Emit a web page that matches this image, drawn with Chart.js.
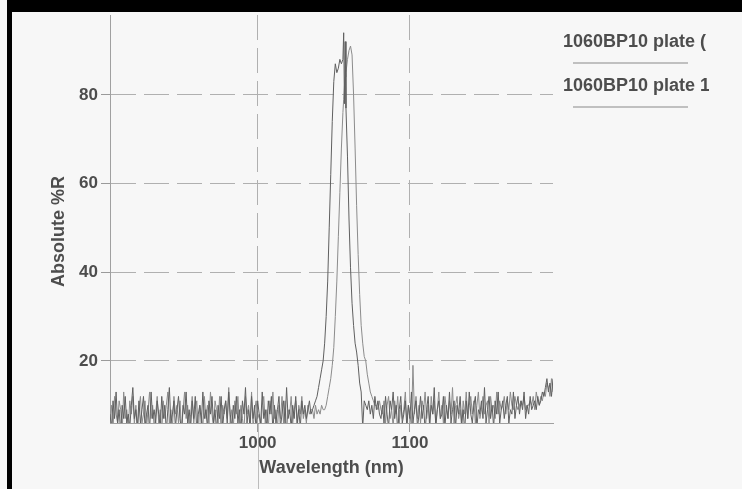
<!DOCTYPE html>
<html>
<head>
<meta charset="utf-8">
<script src="https://cdn.jsdelivr.net/npm/chart.js@4/dist/chart.umd.min.js"></script>
<style>
  html, body { margin: 0; padding: 0; background: #f7f7f7; }
  #wrap { width: 742px; height: 489px; position: relative; }
</style>
</head>
<body>
<div id="wrap"><canvas id="c" width="742" height="489"></canvas></div>
<script>
// ---- data ----
// sample wavelengths (nm): 1 nm sampling on the flat parts, finer around the peak
function seq(a, b) { const o = []; for (let v = a; v <= b; v++) o.push(v); return o; }
const wavelengthsLeft = seq(903, 1035);
const wavelengthsPeak = [
  1036,1037,1038,1039,1040,1041,1042,1043,1044,1045,1046,1047,1048,1049,1050,1051,1052,1053,1054,1055,1056,
  1056.5,1057,1057.5,
  1058,1059,1060,1061,1062,1063,1064,1065,1066,1067,1068,1069,1070,1071,1072,1073,1074,1075,1076,1077,1078,1079,1080
];
const wavelengthsRight = seq(1081, 1194);
const wavelengths = [...wavelengthsLeft, ...wavelengthsPeak, ...wavelengthsRight];

const plateALeft = [
  8,5,11,7,13,6,9,4,10,7, 12,6,8,5,10,14,7,9,5,11, 6,9,12,5,8,10,4,13,7,9,
  6,11,8,5,12,7,10,4,9,14, 6,8,11,5,9,12,7,4,10,8, 13,6,9,5,11,7,12,4,8,10,
  6,13,7,9,5,11,8,12,6,9, 4,10,7,12,5,9,11,6,13,8, 5,10,7,12,6,9,4,11,8,14,
  6,9,5,12,7,10,4,11,8,6, 13,7,9,5,11,8,12,4,10,6, 9,12,5,8,11,6,14,7,9,5,
  10,7,12,6,9,5,11,8,10,7, 9,11,8
];
const plateAPeak = [
  9,10,11,12,14,16,18,20,24,30,38,50,62,74,83,87,85,86,88,87,88,
  94,78,92,
  77,66,52,41,33,28,24,22,19,15,13,5,11,10,9,11,8,10,7,12,9,11,8
];
const plateARight = [
  7,10,6,12,8,5,11,9,13,7, 10,4,9,12,6,8,11,5,10,7, 13,6,9,11,5,8,12,7,10,4,
  9,12,6,10,8,14,5,9,11,7, 8,12,5,10,7,13,6,9,11,5, 10,8,12,6,9,4,11,7,13,8,
  6,10,12,5,9,8,11,7,14,6, 9,12,7,10,5,11,8,13,6,9, 11,7,10,12,6,9,8,13,7,10,
  12,8,11,9,13,7,10,8,12,9, 10,11,9,12,10,11,13,12,14,16, 13,15,12,16
];
const plateBLeft = [
  7,10,5,12,8,6,11,9,4,13, 7,9,5,11,8,12,6,10,4,9, 12,6,8,11,5,9,13,7,10,5,
  8,12,6,9,4,11,7,10,13,6, 9,5,12,8,10,6,11,4,9,13, 7,10,5,8,12,6,9,11,4,10,
  8,5,12,7,10,6,13,8,5,11, 9,6,12,4,10,8,11,7,14,6, 9,5,11,8,12,6,10,7,4,12,
  8,10,6,13,5,9,11,7,8,4, 10,12,6,9,5,11,8,13,7,9, 5,10,7,12,6,11,4,9,8,12,
  6,9,11,5,10,8,12,7,9,6, 10,8,9
];
const plateBPeak = [
  9,7,10,8,9,8,10,9,9,10,12,14,16,19,23,30,38,48,58,68,76,
  79,82,84,
  85,88,90,91,89,80,68,55,44,35,28,24,21,20,17,15,13,12,11,10,10,9,11
];
const plateBRight = [
  9,8,11,6,10,12,7,9,5,11, 8,12,6,10,7,9,13,6,10,8, 5,19,8,12,7,10,6,11,9,13,
  7,10,5,12,8,11,6,9,13,7, 10,6,12,9,7,11,8,14,6,10, 12,7,9,5,11,8,13,7,10,12,
  8,11,6,10,13,7,9,12,8,10, 11,6,12,9,10,7,13,8,11,9, 10,12,8,11,9,13,10,9,12,10,
  9,10,11,10,12,9,10,10,11,10, 12,9,13,11,10,12,11,13,12,15, 14,12,16,13
];
const plateA = [...plateALeft, ...plateAPeak, ...plateARight];
const plateB = [...plateBLeft, ...plateBPeak, ...plateBRight];

const seriesLabels = ['1060BP10 plate (', '1060BP10 plate 1'];
const seriesColors = ['#606060', '#8c8c8c'];
const yTicks = [20, 40, 60, 80];
const xTicks = [1000, 1100];

const FONT = "'Liberation Sans', Arial, sans-serif";
const TEXT = '#4d4d4d';

const bgPlugin = {
  id: 'bg',
  beforeDraw(chart) {
    const ctx = chart.ctx;
    ctx.save();
    ctx.fillStyle = '#f7f7f7';
    ctx.fillRect(0, 0, chart.width, chart.height);
    ctx.restore();
  },
  afterDraw(chart) {
    const ctx = chart.ctx;
    const x = chart.scales.x;
    // faint continuation of the 1000 grid line below the axis (scan fold)
    ctx.save();
    ctx.strokeStyle = 'rgba(140,140,140,0.55)';
    ctx.lineWidth = 1;
    const px = Math.round(x.getPixelForValue(xTicks[0])) + 0.5;
    ctx.beginPath();
    ctx.moveTo(px, chart.chartArea.bottom);
    ctx.lineTo(px, chart.height);
    ctx.stroke();
    ctx.restore();

    // legend: label text with line sample underneath, clipped like the source
    ctx.save();
    ctx.beginPath();
    ctx.rect(0, 0, 709, chart.height);
    ctx.clip();
    chart.data.datasets.forEach((ds, i) => {
      const ty = 42 + i * 44;
      ctx.font = "bold 18px " + FONT;
      ctx.fillStyle = TEXT;
      ctx.textBaseline = 'middle';
      ctx.textAlign = 'left';
      ctx.fillText(ds.label, 563, ty);
      ctx.strokeStyle = '#8a8a8a';
      ctx.lineWidth = 1.2;
      ctx.beginPath();
      ctx.moveTo(573, ty + 21);
      ctx.lineTo(688, ty + 21);
      ctx.stroke();
    });
    ctx.restore();

    // black scan border
    ctx.save();
    ctx.fillStyle = '#000';
    ctx.fillRect(7, 0, chart.width - 7, 12);
    ctx.fillRect(7, 0, 5, chart.height);
    ctx.restore();
  }
};

new Chart(document.getElementById('c'), {
  type: 'line',
  data: {
    datasets: [plateA, plateB].map((vals, i) => ({
      label: seriesLabels[i],
      data: wavelengths.map((w, j) => ({ x: w, y: vals[j] })),
      borderColor: seriesColors[i],
      borderWidth: 1,
      pointRadius: 0,
      tension: 0,
      fill: false
    }))
  },
  options: {
    responsive: false,
    animation: false,
    layout: { padding: { left: 0, right: 189, top: 15, bottom: 0 } },
    plugins: { legend: { display: false }, tooltip: { enabled: false } },
    scales: {
      x: {
        type: 'linear',
        min: 903,
        max: 1194,
        afterBuildTicks(s) { s.ticks = xTicks.map(v => ({ value: v })); },
        afterFit(s) { s.height = 66; },
        grid: {
          color: '#b0b0b0',
          lineWidth: 1,
          tickLength: 9,
          tickColor: '#9a9a9a',
          tickBorderDash: []
        },
        border: { display: true, color: '#a0a0a0', width: 1, dash: [25, 8] },
        ticks: {
          color: TEXT,
          font: { family: FONT, size: 17, weight: 'bold' },
          padding: 1,
          maxRotation: 0,
          callback: v => String(v)
        },
        title: {
          display: true,
          text: 'Wavelength (nm)',
          color: TEXT,
          font: { family: FONT, size: 18, weight: 'bold' },
          padding: { top: 0, bottom: 10 }
        }
      },
      y: {
        type: 'linear',
        min: 6,
        max: 98,
        afterBuildTicks(s) { s.ticks = yTicks.map(v => ({ value: v })); },
        afterFit(s) { s.width = 110; },
        grid: {
          color: '#b0b0b0',
          lineWidth: 1,
          tickLength: 9,
          tickColor: '#9a9a9a',
          tickBorderDash: []
        },
        border: { display: true, color: '#a0a0a0', width: 1, dash: [25, 8] },
        ticks: {
          color: TEXT,
          font: { family: FONT, size: 17, weight: 'bold' },
          padding: 3,
          callback: v => String(v)
        },
        title: {
          display: true,
          text: 'Absolute %R\u00a0\u00a0\u00a0\u00a0\u00a0',
          color: TEXT,
          font: { family: FONT, size: 18, weight: 'bold' },
          padding: { top: 48, bottom: 0 }
        }
      }
    }
  },
  plugins: [bgPlugin]
});
</script>
</body>
</html>
